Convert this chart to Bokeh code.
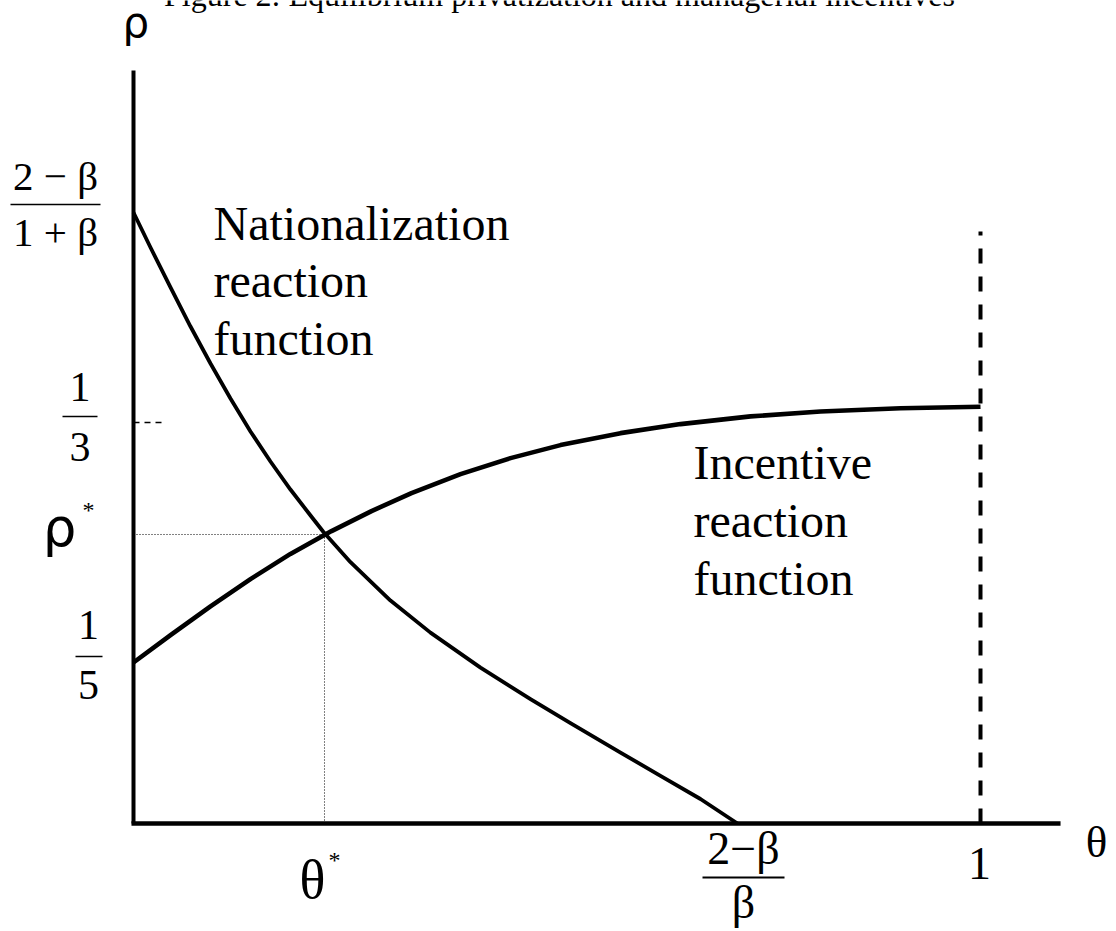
from bokeh.plotting import figure
from bokeh.models import Range1d
from bokeh.embed import file_html
from bokeh.resources import INLINE
from bokeh.core.properties import value

# ---------------- data (schematic diagram; rho axis in schematic units) ----------------
theta_nat = [0.0, 0.0201, 0.0437, 0.0673, 0.0909, 0.1145, 0.1381, 0.1617, 0.1853, 0.2090,
             0.2243, 0.2562, 0.3034, 0.3506, 0.4097, 0.4687, 0.5159, 0.5750, 0.6222, 0.6694, 0.7131]
rho_nat = [1.0, 0.9427, 0.8773, 0.8134, 0.7529, 0.6956, 0.6416, 0.5925, 0.5466, 0.5041,
           0.4771, 0.4277, 0.3648, 0.3124, 0.2552, 0.2036, 0.1643, 0.1160, 0.0781, 0.0401, 0.0]

theta_inc = [0.0, 0.0437, 0.0909, 0.1381, 0.1853, 0.2338, 0.2810, 0.3282, 0.3861, 0.4451,
             0.5041, 0.5750, 0.6458, 0.7285, 0.8111, 0.9056, 1.0]
rho_inc = [0.2635, 0.3083, 0.3555, 0.4000, 0.4412, 0.4786, 0.5113, 0.5408, 0.5718, 0.5980,
           0.6193, 0.6389, 0.6537, 0.6663, 0.6743, 0.6795, 0.6822]

theta_star = 0.2255
rho_star = 0.473
theta_zero = 0.7131      # (2-beta)/beta
theta_one = 1.0
rho_top = 1.0            # (2-beta)/(1+beta)
rho_third = 0.6563       # 1/3
rho_fifth = 0.2635       # 1/5
theta_axis_end = 1.0945
rho_axis_end = 1.2324
rho_dash_top = 0.969

title_text = "Figure 2: Equilibrium privatization and managerial incentives"
nat_label = ["Nationalization", "reaction", "function"]
inc_label = ["Incentive", "reaction", "function"]

# ---------------- layout helpers (reference pixel -> data) ----------------
W, H = 1116, 931
PXX, PXY = 847.0, 611.0
X0, Y0 = 133.0, 823.0   # pixel position of the origin
BASE_SHIFT = 0.36       # text baseline correction (fraction of font size)


def fx(X):
    return (X - X0) / PXX


def fy(Y):
    return (Y0 - Y) / PXY


p = figure(width=W, height=H, output_backend="svg", toolbar_location=None,
           x_range=Range1d(-X0 / PXX, (W - X0) / PXX),
           y_range=Range1d((Y0 - H) / PXY, Y0 / PXY),
           x_axis_type=None, y_axis_type=None, min_border=0)
p.outline_line_color = None
p.grid.visible = False
p.background_fill_color = "white"
p.border_fill_color = "white"

BLACK = "#000000"
SERIF = value("Liberation Serif")
SANS = value("DejaVu Sans")

# axes
p.line([0, 0], [0, rho_axis_end], line_color=BLACK, line_width=4)
p.line([-0.0024, theta_axis_end], [0, 0], line_color=BLACK, line_width=4.5)

# guides
p.line([theta_one, theta_one], [0, rho_dash_top], line_color=BLACK, line_width=4, line_dash="15 13")
p.line([0, fx(165)], [rho_third, rho_third], line_color=BLACK, line_width=1.5, line_dash="6 5")
p.line([0, theta_star], [rho_star, rho_star], line_color=BLACK, line_width=1, line_dash="1 2")
p.line([theta_star, theta_star], [0, rho_star], line_color=BLACK, line_width=1, line_dash="1 2")

# curves
p.line(theta_nat, rho_nat, line_color=BLACK, line_width=3.8, line_join="round")
p.line(theta_inc, rho_inc, line_color=BLACK, line_width=4.6, line_join="round")


def txt(X, B, s, size, font=SERIF, align="left"):
    """X: reference pixel x, B: reference pixel baseline."""
    p.text(x=[fx(X)], y=[fy(B - BASE_SHIFT * size)], text=[s], text_font=font,
           text_font_size=f"{size}px", text_align=align, text_baseline="alphabetic",
           text_color=BLACK)


def bar(X1, X2, Y, w=1.5):
    p.segment(x0=[fx(X1)], y0=[fy(Y)], x1=[fx(X2)], y1=[fy(Y)], line_color=BLACK, line_width=w)


# title (clipped at top, as in the reference)
txt(559, 6, title_text, 32, align="center")

# axis symbols
txt(122, 37, "ρ", 42, font=SANS)
txt(1096, 858, "θ", 45, align="center")

# curve labels
for i, s in enumerate(nat_label):
    txt(213, 240 + 57.5 * i, s, 48)
for i, s in enumerate(inc_label):
    txt(693, 479 + 58 * i, s, 48)

# left tick labels
txt(55, 190, "2 − β", 41, align="center")
bar(10, 100, 204)
txt(55, 246, "1 + β", 41, align="center")

txt(79.5, 402, "1", 42, align="center")
bar(62, 97, 416)
txt(79.5, 462, "3", 42, align="center")

txt(59, 546, "ρ", 53, font=SANS, align="center")
txt(88, 518, "*", 24, align="center")

txt(88, 640, "1", 42, align="center")
bar(75, 102, 656)
txt(88, 700, "5", 42, align="center")

# bottom tick labels
txt(312, 899, "θ", 54, align="center")
txt(334, 868, "*", 24, align="center")

txt(743, 865, "2−β", 46, align="center")
bar(702, 784, 877, 1.8)
txt(743, 919, "β", 46, align="center")

txt(979, 880, "1", 46, align="center")

open("out.html", "w").write(file_html(p, INLINE))
